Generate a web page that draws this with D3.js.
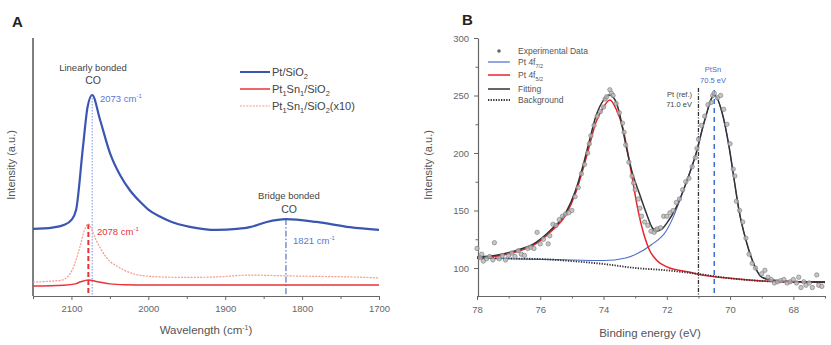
<!DOCTYPE html>
<html>
<head>
<meta charset="utf-8">
<script src="https://cdn.jsdelivr.net/npm/d3@7"></script>
<style>
  body { margin: 0; background: #fff; }
  text { font-family: "Liberation Sans", Arial, sans-serif; }
</style>
</head>
<body>
<div id="chart"></div>
<script>
// ---- panel A data (wavenumber, intensity a.u.) ----
var ptSiO2 = [[2150,26.0],[2125,26.5],[2110,27.5],[2100,29.5],[2094,33.3],[2085,57.8],[2079,73.3],[2073,77.9],
  [2063,68.5],[2050,55.5],[2037,47.0],[2024,41.0],[2010,36.3],[2000,33.5],[1985,30.8],[1972,29.0],[1946,26.8],
  [1911,25.6],[1885,26.0],[1868,26.7],[1846,28.7],[1821,29.8],[1781,28.7],[1738,26.7],[1700,25.6]];
var ptSn = [[2150,3.9],[2110,4.2],[2095,4.7],[2088,5.5],[2078,6.2],[2066,5.5],[2050,4.7],[2030,4.4],[2000,4.3],[1900,4.3],[1800,4.3],[1700,4.3]];
var ptSnX10 = [[2150,5.4],[2125,5.8],[2112,6.2],[2099,10.1],[2089,19.0],[2083,25.6],[2078,27.9],[2068,21.7],
  [2055,15.1],[2037,10.9],[2012,8.1],[1985,7.4],[1950,7.2],[1911,7.4],[1868,8.1],[1819,7.8],[1780,7.6],[1738,7.4],[1700,7.0]];
var xTicksA = [2100, 2000, 1900, 1800, 1700];
var legendA = ["Pt/SiO", "Pt", "Pt"];

// ---- panel B data (binding energy eV, intensity a.u.) ----
var expData = [[78.0,117],[77.9,109],[77.85,112],[77.8,106],[77.7,108],[77.6,110],[77.5,107],[77.45,122],[77.3,108],
  [77.2,111],[77.1,107],[77.0,111],[76.9,113],[76.8,110],[76.7,115],[76.6,112],[76.5,111],[76.4,117],[76.3,118],
  [76.2,117],[76.1,131],[76.0,121],[75.9,125],[75.75,121],[75.7,128],[75.6,138],[75.5,137],[75.4,142],[75.3,145],
  [75.2,147],[75.1,148],[75.0,150],[74.9,162],[74.8,170],[74.7,182],[74.6,190],[74.5,200],[74.45,208],[74.4,215],
  [74.3,224],[74.2,232],[74.1,236],[74.0,240],[73.95,247],[73.9,249],[73.8,255],[73.75,252],[73.7,250],[73.6,243],
  [73.5,235],[73.4,226],[73.35,218],[73.3,207],[73.2,192],[73.1,180],[73.05,174],[73.0,168],[72.9,160],[72.85,152],
  [72.8,145],[72.7,140],[72.6,137],[72.5,132],[72.4,131],[72.35,133],[72.3,134],[72.2,135],[72.1,145],[72.0,145],
  [71.9,148],[71.8,150],[71.7,157],[71.6,160],[71.5,168],[71.4,175],[71.3,178],[71.2,188],[71.1,196],[71.05,204],
  [71.0,212],[70.9,224],[70.8,232],[70.7,242],[70.6,244],[70.55,250],[70.5,252],[70.4,248],[70.3,250],[70.2,238],
  [70.1,225],[70.0,208],[69.9,186],[69.85,180],[69.8,158],[69.7,150],[69.6,140],[69.5,126],[69.4,112],[69.3,104],
  [69.2,100],[69.0,95],[68.9,98],[68.8,92],[68.7,90],[68.6,87],[68.5,88],[68.4,89],[68.3,90],[68.2,87],[68.1,88],
  [68.0,90],[67.9,87],[67.83,92],[67.76,83],[67.67,88],[67.6,85],[67.5,87],[67.4,83],[67.26,94],[67.2,85],[67.1,84]];
var fitting = [[78.0,109.5],[77.34,111.3],[76.71,115.7],[76.17,121.7],[75.67,133],[75.2,147.8],[74.88,167.8],
  [74.66,187.8],[74.44,211.3],[74.25,231.3],[74.0,246],[73.81,250.4],[73.6,244],[73.5,234.8],[73.28,205],
  [73.09,182.6],[72.87,165],[72.65,147.8],[72.46,135],[72.33,132],[72.15,134],[72.0,139],[71.7,153],[71.39,174],[71.07,200],
  [70.8,228.7],[70.5,250.4],[70.25,234.8],[70.03,205],[69.87,176.5],[69.72,150.4],[69.5,124.3],[69.3,107],
  [69.0,92],[68.68,89.6],[68.0,88.2],[67.0,87.8]];
var pt4f52 = [[78.0,108.8],[77.34,110.5],[76.71,114.5],[76.17,120.5],[75.67,131.5],[75.2,146],[74.88,165.5],
  [74.66,185],[74.44,207],[74.25,226],[74.0,240],[73.8,246],[73.6,238],[73.4,222.6],[73.12,182.6],[72.93,153],
  [72.7,127],[72.55,115.7],[72.33,107],[72.0,101],[71.3,96.5],[71.0,94.6],[70.0,91],[69.0,88.7],[68.0,87.8],[67.0,87.6]];
var pt4f72 = [[78.0,108.5],[77.0,108],[76.0,107.5],[75.0,107],[74.0,106.5],[73.3,108.7],[72.9,113],[72.5,120],
  [72.0,133],[71.8,144],[71.6,158],[71.39,174],[71.07,200],[70.8,228.7],[70.5,250.4],[70.25,234.8],[70.03,205],
  [69.87,176.5],[69.72,150.4],[69.5,124.3],[69.3,107],[69.0,92],[68.68,89.6],[68.0,88.2],[67.0,87.8]];
var background = [[78.0,108.7],[77.0,108.3],[76.0,107.8],[75.0,106],[74.0,103.5],[73.0,100],[72.0,98],[71.0,94.8],
  [70.0,91],[69.0,88.7],[68.0,87.8],[67.0,87.6]];
var xTicksB = [78, 76, 74, 72, 70, 68];
var yTicksB = [100, 150, 200, 250, 300];

var svg = d3.select('#chart').append('svg')
  .attr('width', 831)
  .attr('height', 345);

var grey = '#666';

// ================= panel A =================
var xA = d3.scaleLinear().domain([2150, 1700]).range([33, 379]);
var yA = d3.scaleLinear().domain([0, 100]).range([296, 38]);

svg.append('text').attr('x', 12).attr('y', 27).text('A')
  .style('font-size', '15px').style('font-weight', 'bold').attr('fill', '#222');

var axA = svg.append('g').attr('transform', 'translate(0,296)')
  .call(d3.axisBottom(xA).tickValues(xTicksA).tickFormat(d3.format('d')).tickSize(4).tickSizeOuter(0).tickPadding(5));
axA.selectAll('text').style('font-size', '9.5px').attr('fill', grey);
svg.append('g').attr('transform', 'translate(0,296)')
  .call(d3.axisBottom(xA).tickValues([2150, 2050, 1950, 1850, 1750]).tickSize(3).tickFormat(''))
  .select('.domain').remove();
svg.append('line').attr('x1', 33).attr('x2', 33).attr('y1', 38).attr('y2', 296)
  .attr('stroke', '#555').attr('stroke-width', 1.5);
svg.selectAll('.tick line').attr('stroke', grey);
svg.selectAll('.domain').attr('stroke', grey).attr('stroke-width', 1.2);

var xt = svg.append('text').attr('x', 206).attr('y', 334).attr('text-anchor', 'middle')
  .style('font-size', '11.5px').attr('fill', '#555');
xt.append('tspan').text('Wavelength (cm');
xt.append('tspan').attr('dy', -4).style('font-size', '7px').text('-1');
xt.append('tspan').attr('dy', 4).text(')');

svg.append('text').attr('transform', 'translate(15,165) rotate(-90)').attr('text-anchor', 'middle')
  .style('font-size', '11px').attr('fill', '#555').text('Intensity (a.u.)');

var lineA = d3.line().x(function(d){ return xA(d[0]) }).y(function(d){ return yA(d[1]) })
  .curve(d3.curveMonotoneX);

// marker lines
function vpeak(data, w){
  for (var i = 0; i < data.length; i++) if (data[i][0] === w) return data[i][1];
}
svg.append('line').attr('x1', xA(2073)).attr('x2', xA(2073)).attr('y1', yA(vpeak(ptSiO2, 2073))).attr('y2', 296)
  .attr('stroke', '#5b78d0').attr('stroke-width', 0.8).attr('stroke-dasharray', '1.5,1.5');
svg.append('line').attr('x1', xA(2078)).attr('x2', xA(2078)).attr('y1', yA(vpeak(ptSnX10, 2078))).attr('y2', 296)
  .attr('stroke', '#e8333a').attr('stroke-width', 2).attr('stroke-dasharray', '5,3');
svg.append('line').attr('x1', xA(1821)).attr('x2', xA(1821)).attr('y1', yA(vpeak(ptSiO2, 1821))).attr('y2', 296)
  .attr('stroke', '#3a56b0').attr('stroke-width', 1).attr('stroke-dasharray', '6,2,1.5,2');

svg.append('path').datum(ptSnX10).attr('d', lineA).attr('fill', 'none')
  .attr('stroke', '#f49a8a').attr('stroke-width', 1.2).attr('stroke-dasharray', '2,1.2');
svg.append('path').datum(ptSn).attr('d', lineA).attr('fill', 'none')
  .attr('stroke', '#e8333a').attr('stroke-width', 1.5);
svg.append('path').datum(ptSiO2).attr('d', lineA).attr('fill', 'none')
  .attr('stroke', '#3a56b0').attr('stroke-width', 2.2);

// annotations A
function label(x, y, txt, col, size, anchor){
  return svg.append('text').attr('x', x).attr('y', y).attr('text-anchor', anchor || 'middle')
    .style('font-size', size + 'px').attr('fill', col).text(txt);
}
label(93, 71, 'Linearly bonded', '#444', 9.5);
label(93, 84, 'CO', '#444', 10.5);
label(289, 199, 'Bridge bonded', '#444', 9.5);
label(289, 213, 'CO', '#444', 10.5);
function wn(x, y, num, col){
  var t = svg.append('text').attr('x', x).attr('y', y).style('font-size', '9.5px').attr('fill', col);
  t.append('tspan').text(num + ' cm');
  t.append('tspan').attr('dy', -4).style('font-size', '6px').text('-1');
}
wn(100, 102, '2073', '#5b78d0');
wn(97, 235, '2078', '#e8333a');
wn(293, 244, '1821', '#5b78d0');

// legend A
var legA = [
  {stroke: '#3a56b0', w: 2, dash: null, y: 72},
  {stroke: '#e8333a', w: 1.5, dash: null, y: 89},
  {stroke: '#f49a8a', w: 1.2, dash: '2,1.2', y: 106}
];
legA.forEach(function(d, i){
  svg.append('line').attr('x1', 240).attr('x2', 270).attr('y1', d.y).attr('y2', d.y)
    .attr('stroke', d.stroke).attr('stroke-width', d.w).attr('stroke-dasharray', d.dash);
  var t = svg.append('text').attr('x', 272).attr('y', d.y + 4).style('font-size', '11px').attr('fill', '#444');
  if (i === 0) {
    t.append('tspan').text(legendA[0]);
    t.append('tspan').attr('dy', 3).style('font-size', '7.5px').text('2');
  } else {
    t.append('tspan').text('Pt');
    t.append('tspan').attr('dy', 3).style('font-size', '7.5px').text('1');
    t.append('tspan').attr('dy', -3).text('Sn');
    t.append('tspan').attr('dy', 3).style('font-size', '7.5px').text('1');
    t.append('tspan').attr('dy', -3).text('/SiO');
    t.append('tspan').attr('dy', 3).style('font-size', '7.5px').text('2');
    if (i === 2) t.append('tspan').attr('dy', -3).text('(x10)');
  }
});

// ================= panel B =================
var xB = d3.scaleLinear().domain([78, 67]).range([477, 825]);
var yB = d3.scaleLinear().domain([75, 300]).range([296.75, 38]);

svg.append('text').attr('x', 462).attr('y', 25).text('B')
  .style('font-size', '15px').style('font-weight', 'bold').attr('fill', '#222');

var gxB = svg.append('g').attr('transform', 'translate(0,296)')
  .call(d3.axisBottom(xB).tickValues(xTicksB).tickSize(4).tickSizeOuter(0).tickPadding(6));
svg.append('g').attr('transform', 'translate(0,296)')
  .call(d3.axisBottom(xB).tickValues([77, 75, 73, 71, 69, 67]).tickSize(2.5).tickFormat(''))
  .select('.domain').remove();
var gyB = svg.append('g').attr('transform', 'translate(478,0)')
  .call(d3.axisLeft(yB).tickValues(yTicksB).tickSize(4).tickSizeOuter(0).tickPadding(5));
svg.append('g').attr('transform', 'translate(478,0)')
  .call(d3.axisLeft(yB).tickValues([275, 225, 175, 125]).tickSize(2.5).tickFormat(''))
  .select('.domain').remove();
gxB.selectAll('text').style('font-size', '9.5px').attr('fill', grey);
gyB.selectAll('text').style('font-size', '9.5px').attr('fill', grey);
svg.selectAll('.tick line').attr('stroke', grey);
svg.selectAll('.domain').attr('stroke', grey).attr('stroke-width', 1.2);

label(650, 337, 'Binding energy (eV)', '#555', 11.5);
svg.append('text').attr('transform', 'translate(432,165) rotate(-90)').attr('text-anchor', 'middle')
  .style('font-size', '11px').attr('fill', '#555').text('Intensity (a.u.)');

var lineB = d3.line().x(function(d){ return xB(d[0]) }).y(function(d){ return yB(d[1]) })
  .curve(d3.curveMonotoneX);

// reference lines
svg.append('line').attr('x1', xB(71.0)).attr('x2', xB(71.0)).attr('y1', 88).attr('y2', 296)
  .attr('stroke', '#333').attr('stroke-width', 1.3).attr('stroke-dasharray', '4,1.5,1,1.5');
svg.append('line').attr('x1', xB(70.5)).attr('x2', xB(70.5)).attr('y1', 90).attr('y2', 296)
  .attr('stroke', '#3b6fd0').attr('stroke-width', 1.5).attr('stroke-dasharray', '5,4');

svg.append('path').datum(pt4f72).attr('d', lineB).attr('fill', 'none')
  .attr('stroke', '#4a6cc8').attr('stroke-width', 1.1);
svg.append('path').datum(pt4f52).attr('d', lineB).attr('fill', 'none')
  .attr('stroke', '#e8232a').attr('stroke-width', 1.5);
svg.append('path').datum(fitting).attr('d', lineB).attr('fill', 'none')
  .attr('stroke', '#333').attr('stroke-width', 1.5);
svg.append('path').datum(background).attr('d', lineB).attr('fill', 'none')
  .attr('stroke', '#333').attr('stroke-width', 1.8).attr('stroke-dasharray', '1.3,1.3');

svg.append('g').selectAll('circle').data(expData).enter().append('circle')
  .attr('cx', function(d){ return xB(d[0]) })
  .attr('cy', function(d){ return yB(d[1]) })
  .attr('r', 2.2)
  .attr('fill', '#b8b8b8').attr('stroke', '#777').attr('stroke-width', 0.6).attr('fill-opacity', 0.8);

// annotations B
label(692, 97, 'Pt (ref.)', '#444', 7.5, 'end');
label(692, 107, '71.0 eV', '#444', 7.5, 'end');
label(713, 72, 'PtSn', '#4a6cc8', 7.5);
label(713, 83, '70.5 eV', '#4a6cc8', 7.5);

// legend B
svg.append('circle').attr('cx', 499).attr('cy', 51).attr('r', 1.8).attr('fill', '#666');
var legB = [
  {stroke: '#4a6cc8', w: 1.2, dash: null, y: 62},
  {stroke: '#e8232a', w: 1.5, dash: null, y: 75},
  {stroke: '#333', w: 1.5, dash: null, y: 89},
  {stroke: '#333', w: 1.8, dash: '1.3,1.3', y: 100}
];
legB.forEach(function(d){
  svg.append('line').attr('x1', 488).attr('x2', 510).attr('y1', d.y).attr('y2', d.y)
    .attr('stroke', d.stroke).attr('stroke-width', d.w).attr('stroke-dasharray', d.dash);
});
label(518, 54, 'Experimental Data', '#555', 8.5, 'start');
var t1 = svg.append('text').attr('x', 518).attr('y', 65).style('font-size', '8.5px').attr('fill', '#555');
t1.append('tspan').text('Pt 4f');
t1.append('tspan').attr('dy', 2.5).style('font-size', '5.5px').text('7/2');
var t2 = svg.append('text').attr('x', 518).attr('y', 78).style('font-size', '8.5px').attr('fill', '#555');
t2.append('tspan').text('Pt 4f');
t2.append('tspan').attr('dy', 2.5).style('font-size', '5.5px').text('5/2');
label(518, 92, 'Fitting', '#555', 8.5, 'start');
label(518, 103, 'Background', '#555', 8.5, 'start');
</script>
</body>
</html>
